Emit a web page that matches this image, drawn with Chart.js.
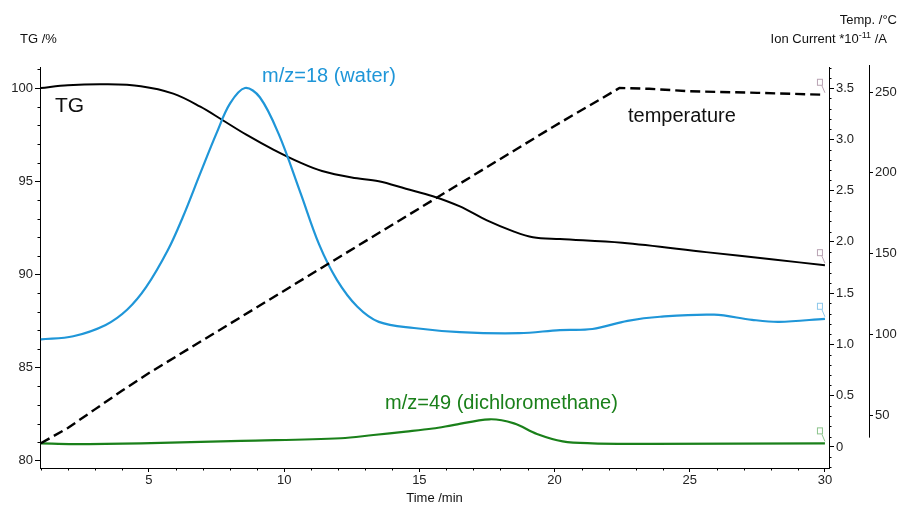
<!DOCTYPE html>
<html>
<head>
<meta charset="utf-8">
<script src="https://cdn.jsdelivr.net/npm/chart.js@4.4.1/dist/chart.umd.min.js"></script>
<style>
  html, body { margin: 0; padding: 0; background: #fff; }
</style>
</head>
<body>
<canvas id="tgChart" width="902" height="506"></canvas>
<script>
// TG curve (%), left axis
var tgTime = [1, 2, 3.4, 4.7, 5.9, 6.9, 7.7, 8.6, 9.6, 10.6, 11.4, 12.5, 13.5, 14.5, 15.5, 16.5, 17.5, 18.5, 19.2, 20.2, 22.5, 25.6, 28.1, 30];
var tgValues = [100.0, 100.15, 100.2, 100.1, 99.7, 99.0, 98.3, 97.5, 96.7, 96.0, 95.55, 95.2, 95.0, 94.6, 94.2, 93.65, 92.9, 92.3, 92.0, 91.9, 91.7, 91.2, 90.8, 90.5];

// m/z=18 ion current (*10^-11 A)
var waterTime = [1, 2.2, 3.4, 4.2, 4.9, 5.7, 6.25, 6.9, 7.5, 8.0, 8.55, 9.1, 9.8, 10.6, 11.3, 11.95, 12.7, 13.5, 14.8, 16.5, 18.7, 20.2, 21.4, 22.7, 23.9, 25.9, 27.3, 28.3, 30];
var waterValues = [1.05, 1.08, 1.19, 1.34, 1.56, 1.92, 2.24, 2.67, 3.06, 3.35, 3.50, 3.41, 3.05, 2.48, 1.97, 1.63, 1.37, 1.22, 1.16, 1.12, 1.11, 1.14, 1.15, 1.23, 1.27, 1.29, 1.24, 1.22, 1.25];

// m/z=49 ion current
var dcmTime = [1, 2.2, 4.7, 8.4, 12.1, 13.3, 14.5, 15.5, 16.2, 17.6, 18.5, 19.35, 20.3, 21.4, 23.6, 30];
var dcmValues = [0.035, 0.028, 0.035, 0.06, 0.085, 0.117, 0.15, 0.18, 0.21, 0.27, 0.23, 0.127, 0.055, 0.036, 0.03, 0.035];

// temperature (°C), outer right axis
var tempTime = [1, 2, 3, 4, 5, 10, 15, 20, 22.4, 23.5, 25, 27.5, 30];
var tempValues = [32.5, 42, 53.5, 65, 76, 127, 178, 229, 252.5, 252, 250.5, 249.5, 248.3];

// tick labels
var timeTicks = [5, 10, 15, 20, 25, 30];
var tgTicks = [80, 85, 90, 95, 100];
var ionTicks = [0, 0.5, 1.0, 1.5, 2.0, 2.5, 3.0, 3.5];
var tempTicks = [50, 100, 150, 200, 250];

function toPoints(xs, ys) {
    return xs.map(function (x, i) { return { x: x, y: ys[i] }; });
}

function fixTicks(values) {
    return function (scale) {
        scale.ticks = values.map(function (v) { return { value: v }; });
    };
}

var tickFont = { family: 'Arial, "Liberation Sans", sans-serif', size: 13 };
var labelFont = '20px Arial, "Liberation Sans", sans-serif';

// little curve-id flags at the right end of each line
function endFlag(c, chart, dsIndex, color) {
    var meta = chart.getDatasetMeta(dsIndex);
    var last = meta.data[meta.data.length - 1];
    if (!last) return;
    var ex = last.x, ey = last.y;
    c.save();
    c.strokeStyle = color;
    c.lineWidth = 1;
    c.strokeRect(ex - 7.5, ey - 15.5, 5, 6);
    c.beginPath();
    c.moveTo(ex - 3, ey - 9);
    c.lineTo(ex, ey - 2);
    c.stroke();
    c.restore();
}

var extras = {
    id: 'extras',
    afterDraw: function (chart) {
        var c = chart.ctx;
        var sx = chart.scales.x, sTg = chart.scales.yTG, sIon = chart.scales.yIon, sT = chart.scales.yTemp;
        c.save();
        c.strokeStyle = '#000';
        c.lineWidth = 1;
        c.beginPath();
        // minor ticks
        for (var t = 1; t <= 30; t++) {
            if (t % 5 === 0) continue;
            var px = Math.round(sx.getPixelForValue(t)) + 0.5;
            c.moveTo(px, sx.top); c.lineTo(px, sx.top + 2.5);
        }
        for (var v = 80; v <= 101; v++) {
            if (v % 5 === 0) continue;
            var py = Math.round(sTg.getPixelForValue(v)) + 0.5;
            c.moveTo(sTg.right, py); c.lineTo(sTg.right - 2.5, py);
        }
        for (var k = -2; k <= 37; k++) {
            if (k % 5 === 0) continue;
            var py2 = Math.round(sIon.getPixelForValue(k / 10)) + 0.5;
            c.moveTo(sIon.left, py2); c.lineTo(sIon.left + 2.5, py2);
        }
        // temperature axis line (shorter than the others)
        var tx = Math.round(sT.left) + 0.5;
        c.moveTo(tx, sT.getPixelForValue(36));
        c.lineTo(tx, sT.top - 2);
        c.stroke();

        // axis titles
        c.fillStyle = '#111';
        c.font = '13px Arial, "Liberation Sans", sans-serif';
        c.textBaseline = 'alphabetic';
        c.textAlign = 'left';
        c.fillText('TG /%', 20, 43);
        c.textAlign = 'right';
        c.fillText('Temp. /°C', 897, 24);
        c.fillText(' /A', 887, 43);
        var wA = c.measureText(' /A').width;
        c.font = '9px Arial, "Liberation Sans", sans-serif';
        c.fillText('-11', 887 - wA, 38);
        var wS = c.measureText('-11').width;
        c.font = '13px Arial, "Liberation Sans", sans-serif';
        c.fillText('Ion Current *10', 887 - wA - wS, 43);
        c.textAlign = 'center';
        c.fillText('Time /min', (sx.left + sx.right) / 2, 502);

        // curve labels
        c.textAlign = 'left';
        c.font = '21px Arial, "Liberation Sans", sans-serif';
        c.fillText('TG', 55, 112);
        c.font = labelFont;
        c.fillText('temperature', 628, 122);
        c.fillStyle = '#1f96d8';
        c.fillText('m/z=18 (water)', 262, 82);
        c.fillStyle = '#1a801a';
        c.fillText('m/z=49 (dichloromethane)', 385, 409);
        c.restore();

        endFlag(c, chart, 0, '#b9a3b3');
        endFlag(c, chart, 1, '#8cc48c');
        endFlag(c, chart, 2, '#8cc7ea');
        endFlag(c, chart, 3, '#b9a3b3');
    }
};

var ctx = document.getElementById('tgChart').getContext('2d');
var tgChart = new Chart(ctx, {
    type: 'line',
    data: {
        datasets: [
            {
                label: 'temperature',
                data: toPoints(tempTime, tempValues),
                yAxisID: 'yTemp',
                borderColor: '#000',
                borderWidth: 2.4,
                borderDash: [10, 5],
                tension: 0
            },
            {
                label: 'm/z=49',
                data: toPoints(dcmTime, dcmValues),
                yAxisID: 'yIon',
                borderColor: '#1a801a',
                borderWidth: 2.2,
                tension: 0.35
            },
            {
                label: 'm/z=18',
                data: toPoints(waterTime, waterValues),
                yAxisID: 'yIon',
                borderColor: '#1f96d8',
                borderWidth: 2.2,
                tension: 0.35
            },
            {
                label: 'TG',
                data: toPoints(tgTime, tgValues),
                yAxisID: 'yTG',
                borderColor: '#000',
                borderWidth: 2,
                tension: 0.35
            }
        ]
    },
    options: {
        responsive: false,
        animation: false,
        layout: { padding: { top: 67, left: 0, right: 0, bottom: 0 } },
        elements: { point: { radius: 0 } },
        plugins: {
            legend: { display: false },
            tooltip: { enabled: false }
        },
        scales: {
            x: {
                type: 'linear',
                min: 0.97,
                max: 30.15,
                afterBuildTicks: fixTicks(timeTicks),
                afterFit: function (s) { s.height = 38; },
                border: { color: '#000', width: 1 },
                grid: { drawOnChartArea: false, tickLength: 4, color: '#000' },
                ticks: { font: tickFont, color: '#222', padding: 1, autoSkip: false, maxRotation: 0 }
            },
            yTG: {
                position: 'left',
                min: 79.62,
                max: 101.13,
                afterBuildTicks: fixTicks(tgTicks),
                afterFit: function (s) { s.width = 40; },
                border: { color: '#000', width: 1 },
                grid: { drawOnChartArea: false, tickLength: 5, color: '#000' },
                ticks: { font: tickFont, color: '#222', padding: 2, autoSkip: false }
            },
            yIon: {
                position: 'right',
                weight: 0,
                min: -0.205,
                max: 3.705,
                afterBuildTicks: fixTicks(ionTicks),
                afterFit: function (s) { s.width = 40; },
                border: { color: '#000', width: 1 },
                grid: { drawOnChartArea: false, tickLength: 5, color: '#000' },
                ticks: {
                    font: tickFont, color: '#222', padding: 2, autoSkip: false,
                    callback: function (v) { return v === 0 ? '0' : v.toFixed(1); }
                }
            },
            yTemp: {
                position: 'right',
                weight: 1,
                min: 17.2,
                max: 265.5,
                afterBuildTicks: fixTicks(tempTicks),
                afterFit: function (s) { s.width = 33; },
                border: { display: false },
                grid: { drawOnChartArea: false, tickLength: 4, color: '#000' },
                ticks: { font: tickFont, color: '#222', padding: 2, autoSkip: false }
            }
        }
    },
    plugins: [extras]
});
</script>
</body>
</html>
